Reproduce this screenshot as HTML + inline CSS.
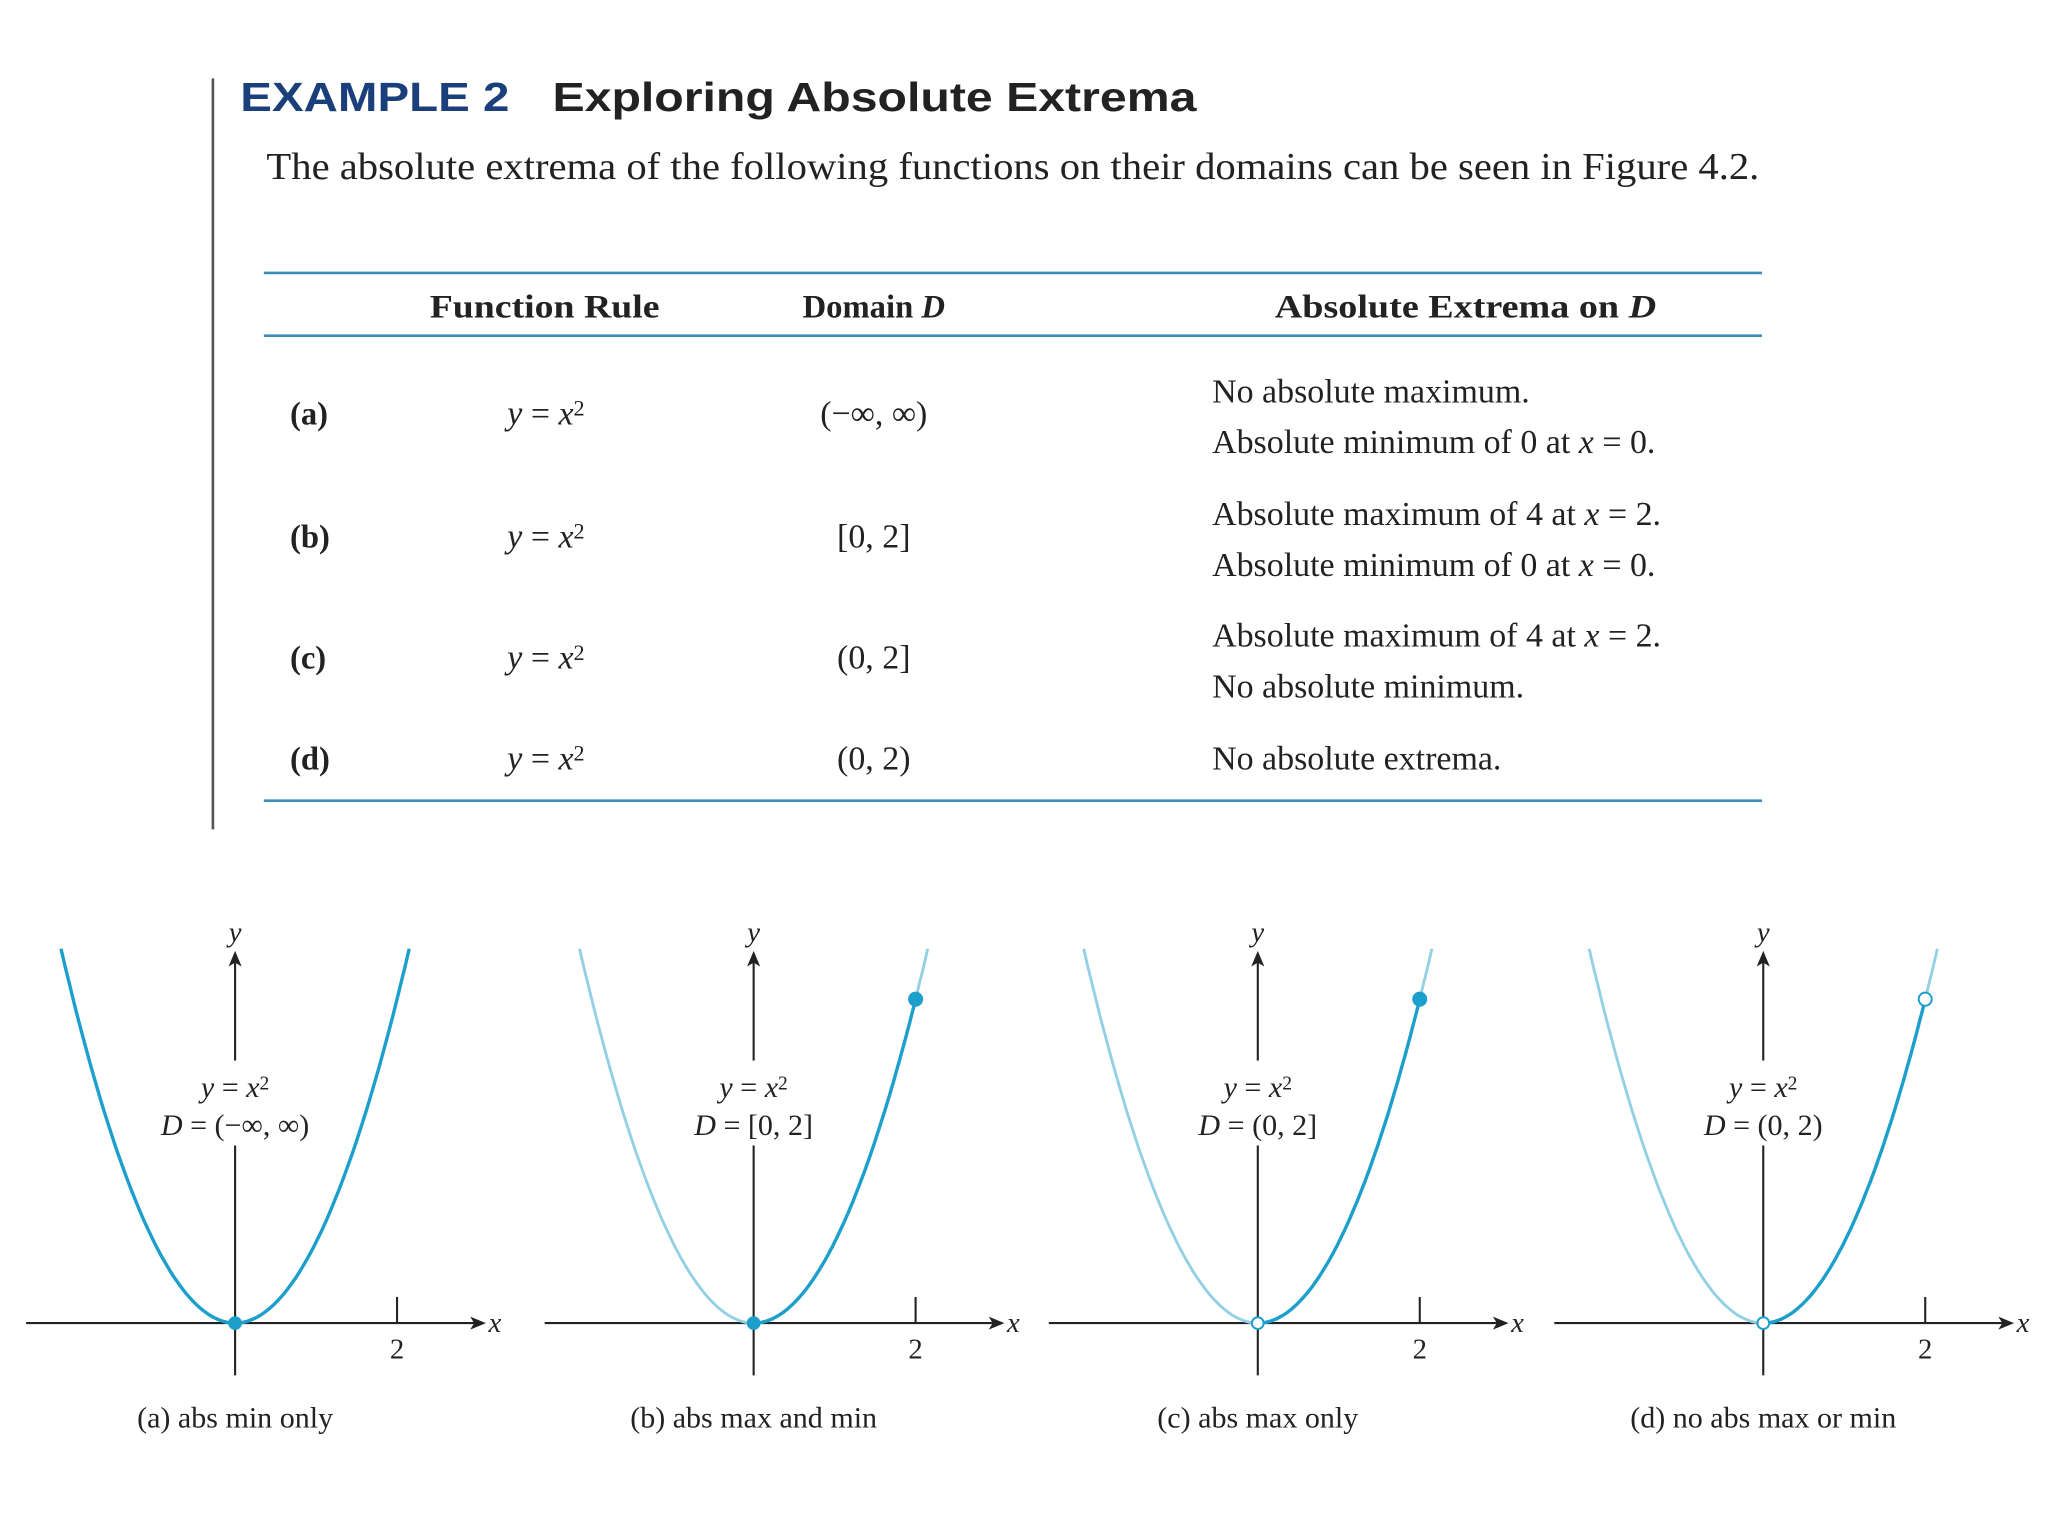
<!DOCTYPE html>
<html><head><meta charset="utf-8"><style>
html,body{margin:0;padding:0;background:#fff;width:2048px;height:1536px;overflow:hidden}
svg{display:block}
.s{font-family:"Liberation Serif",serif;fill:#222}
.b{font-weight:bold}
.i{font-style:italic}
</style></head><body>
<svg id="root" width="2048" height="1536" viewBox="0 0 1568 1176" xmlns="http://www.w3.org/2000/svg">
<rect width="1568" height="1176" fill="#fff"/>
<line x1="163" y1="60" x2="163" y2="635" stroke="#555" stroke-width="2"/>
<text x="184" y="85" font-family="Liberation Sans,sans-serif" font-weight="bold" font-size="31" fill="#1b3f7a" textLength="206" lengthAdjust="spacingAndGlyphs">EXAMPLE 2</text>
<text x="423" y="85" font-family="Liberation Sans,sans-serif" font-weight="bold" font-size="31" fill="#222" textLength="493" lengthAdjust="spacingAndGlyphs">Exploring Absolute Extrema</text>
<text class="s" x="204" y="137" font-size="29" textLength="1143" lengthAdjust="spacingAndGlyphs">The absolute extrema of the following functions on their domains can be seen in Figure 4.2.</text>
<g>
<line x1="202" y1="209" x2="1349" y2="209" stroke="#3a8fb8" stroke-width="2"/>
<line x1="202" y1="257" x2="1349" y2="257" stroke="#3a8fb8" stroke-width="2"/>
<line x1="202" y1="613" x2="1349" y2="613" stroke="#3a8fb8" stroke-width="2"/>
<text class="s b" x="417" y="243" font-size="25" text-anchor="middle" textLength="176" lengthAdjust="spacingAndGlyphs">Function Rule</text>
<text class="s b" x="669" y="243" font-size="25" text-anchor="middle">Domain <tspan class="i">D</tspan></text>
<text class="s b" x="1122" y="243" font-size="25" text-anchor="middle" textLength="292" lengthAdjust="spacingAndGlyphs">Absolute Extrema on <tspan class="i">D</tspan></text>
</g>
<g id="rows"></g>
<g id="graphs"></g>
<script>
const labels=['(a)','(b)','(c)','(d)'];
const domains=['(−∞, ∞)','[0, 2]','(0, 2]','(0, 2)'];
const extremaLine1=['No absolute maximum.','Absolute maximum of 4 at x = 2.','Absolute maximum of 4 at x = 2.','No absolute extrema.'];
const extremaLine2=['Absolute minimum of 0 at x = 0.','Absolute minimum of 0 at x = 0.','No absolute minimum.',''];
const rowY=[316,410,503,580];
const domLo=[-2.15,0,0,0];
const domHi=[2.15,2,2,2];
const loClosed=[true,true,false,false];
const hiClosed=[null,true,true,false];
const captions=['(a) abs min only','(b) abs max and min','(c) abs max only','(d) no abs max or min'];
const NS='http://www.w3.org/2000/svg';
function mk(t,a,p,txt){const e=document.createElementNS(NS,t);for(const k in a)e.setAttribute(k,a[k]);if(txt!==undefined)e.textContent=txt;p.appendChild(e);return e;}
// segs: [text, italic, sup]
function rich(el,segs,supSize){
 let prevSup=false;
 for(const [t,it,sup] of segs){
  const ts=document.createElementNS(NS,'tspan');
  ts.textContent=t;
  if(it)ts.setAttribute('font-style','italic');
  if(sup){ts.setAttribute('dy','-0.4em');ts.setAttribute('font-size',supSize);}
  else if(prevSup){ts.setAttribute('dy','0.4em');}
  prevSup=!!sup;
  el.appendChild(ts);
 }
 return el;
}
function xsegs(s){const parts=s.split('x = ');if(parts.length<2)return [[s]];return [[parts[0]],['x',true],[' = '+parts[1]]];}
const rows=document.getElementById('rows');
for(let i=0;i<4;i++){
 const y=rowY[i];
 const a=mk('text',{class:'s b',x:222,y:y+9,'font-size':25},rows,labels[i]);
 
 const f=rich(mk('text',{class:'s',x:418,y:y+9,'font-size':26,'text-anchor':'middle'},rows),[['y',true],[' = '],['x',true],['2',false,17]],17);
 
 const d=mk('text',{class:'s',x:669,y:y+9,'font-size':26,'text-anchor':'middle'},rows,domains[i]);
 
 if(extremaLine2[i]){
  const e1=rich(mk('text',{class:'s',x:928,y:y-8,'font-size':26},rows),xsegs(extremaLine1[i]));
  
  const e2=rich(mk('text',{class:'s',x:928,y:y+31,'font-size':26},rows),xsegs(extremaLine2[i]));
  
 }else{
  const e1=mk('text',{class:'s',x:928,y:y+9,'font-size':26},rows,extremaLine1[i]);
  
 }
}
const originX=[180,577,963,1350];
const originY=1013;
const unit=62;
const light='#93d0e4',dark='#1d9fcc';
const G=document.getElementById('graphs');
for(let i=0;i<4;i++){
 const ox=originX[i];
 const sx=x=>ox+x*unit, sy=v=>originY-v*unit;
 const g=mk('g',{},G);
 
 const xa=mk('line',{x1:ox-160,y1:originY,x2:ox+185,y2:originY,stroke:'#222','stroke-width':1.6},g);
 
 mk('path',{d:`M${ox+192} ${originY} l-12 -5 l3 5 l-3 5 z`,fill:'#222'},g);
 const xl=mk('text',{class:'s i',x:ox+194,y:originY+7,'font-size':22},g,'x');
 
 const ya=mk('line',{x1:ox,y1:originY+40,x2:ox,y2:733,stroke:'#222','stroke-width':1.6},g);
 
 mk('path',{d:`M${ox} 728 l-5 12 l5 -3 l5 3 z`,fill:'#222'},g);
 const yl=mk('text',{class:'s i',x:ox,y:721,'font-size':22,'text-anchor':'middle'},g,'y');
 
 const tk=mk('line',{x1:sx(2),y1:originY-20,x2:sx(2),y2:originY,stroke:'#222','stroke-width':1.6},g);
 
 const tl=mk('text',{class:'s',x:sx(2),y:originY+27,'font-size':22,'text-anchor':'middle'},g,'2');
 
 mk('rect',{x:ox-70,y:812,width:140,height:65,fill:'#fff'},g);
 const l1=rich(mk('text',{class:'s',x:ox,y:840,'font-size':23,'text-anchor':'middle'},g),[['y',true],[' = '],['x',true],['2',false,15]],15);
 
 const l2=rich(mk('text',{class:'s',x:ox,y:869,'font-size':23,'text-anchor':'middle'},g),[['D',true],[' = '+domains[i]]]);
 
 const path=(a,b)=>{let s='';const n=80;for(let k=0;k<=n;k++){const x=a+(b-a)*k/n;s+=(k?'L':'M')+sx(x).toFixed(1)+' '+sy(x*x).toFixed(1);}return s;};
 if(domLo[i]>-2.15){
  const c=mk('path',{d:path(-2.15,2.15),fill:'none',stroke:light,'stroke-width':2.2},g);
  
 }
 const c2=mk('path',{d:path(domLo[i],domHi[i]),fill:'none',stroke:dark,'stroke-width':2.6},g);
 
 const lo=domLo[i]<0?0:domLo[i];
 const p0=mk('circle',{cx:sx(lo),cy:sy(lo*lo),r:4.5,fill:loClosed[i]?dark:'#fff',stroke:dark,'stroke-width':1.5},g);
 
 if(hiClosed[i]!==null){
  const p1=mk('circle',{cx:sx(domHi[i]),cy:sy(domHi[i]*domHi[i]),r:5,fill:hiClosed[i]?dark:'#fff',stroke:dark,'stroke-width':1.5},g);
  
 }
 const cap=mk('text',{class:'s',x:ox,y:1093,'font-size':23,'text-anchor':'middle'},g,captions[i]);
 
}
</script>
</svg>
</body></html>
